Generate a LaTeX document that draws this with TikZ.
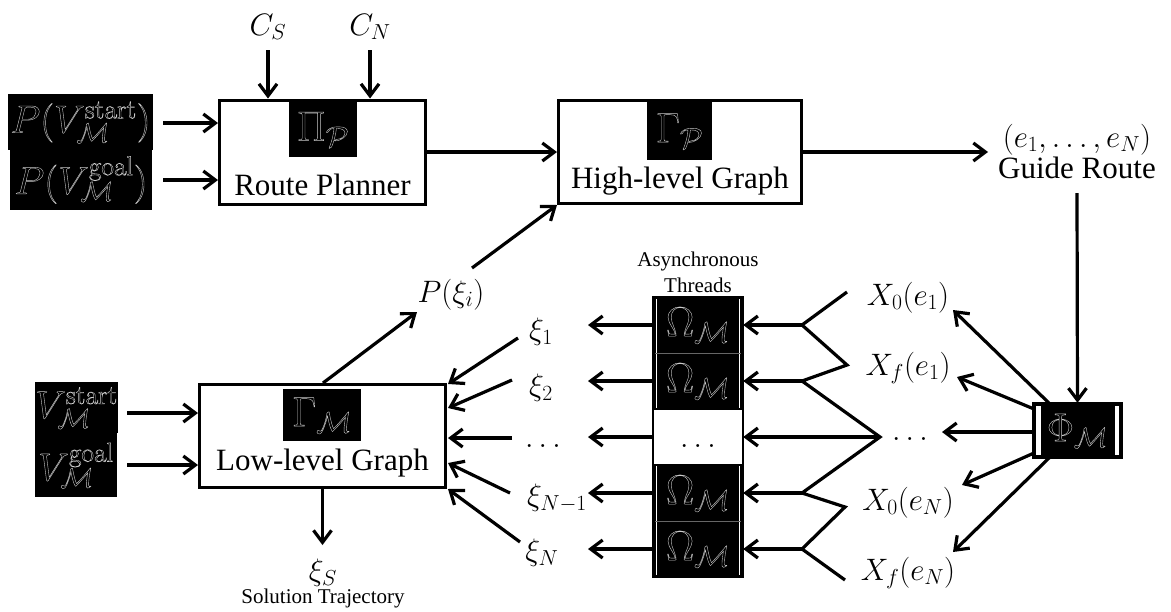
\RequirePackage{fix-cm}
\documentclass[tikz,border=0pt]{standalone}
\usepackage[no-math]{fontspec}
\setmainfont{Liberation Serif}
\usetikzlibrary{arrows.meta}
\newcommand\hollowtxt[1]{\special{pdf:literal direct 1 Tr}#1\special{pdf:literal direct 0 Tr}}
\begin{document}
\begin{tikzpicture}[x=1pt,y=-1pt,
  box/.style={draw, line width=3pt, fill=white, inner sep=0pt},
  sym/.style={fill=black, text=black!20, inner sep=0pt, font=\fontsize{42}{42}\selectfont},
  vsym/.style={sym, font=\fontsize{39}{39}\selectfont},
  lbl/.style={font=\fontsize{31}{36}\selectfont, inner sep=0pt},
  small/.style={font=\fontsize{21}{24}\selectfont, inner sep=0pt},
  arr/.style={-{Straight Barb[length=12pt,width=18pt]}, line width=3.2pt},
  ln/.style={line width=3.2pt, line join=miter},
]
\useasboundingbox (0,0) rectangle (1171,611);

% ---------- Route planner ----------
\node[box, minimum width=206pt, minimum height=104pt] (rp) at (322.5,152) {};
\node[sym, minimum width=68pt, minimum height=55pt] (pi) at (323,129.5) {\hollowtxt{$\Pi_{\mathcal P}$}};
\node[lbl, anchor=base] (rpl) at (322.5,195) {Route Planner};

\node[lbl, anchor=base] (cs) at (268,35) {$C_S$};
\node[lbl, anchor=base] (cn) at (370,35) {$C_N$};
\coordinate (csb) at (268,50);
\coordinate (cnb) at (370,50);

\node[vsym, minimum width=145pt, minimum height=56pt] (pvs) at (80.5,122)
  {\hollowtxt{$P(V^{\mathrm{start}}_{\mathcal M})$}};
\node[vsym, minimum width=142pt, minimum height=60pt] (pvg) at (81,180)
  {\hollowtxt{$P(V^{\mathrm{goal}}_{\mathcal M})$}};
\coordinate (pvsa) at (163,123);
\coordinate (pvga) at (163,180);

% ---------- High-level graph ----------
\node[box, minimum width=243pt, minimum height=103pt] (hl) at (680,152) {};
\node[sym, minimum width=65pt, minimum height=58pt] (gp) at (679.5,131) {\hollowtxt{$\Gamma_{\mathcal P}$}};
\node[lbl, anchor=base] (hll) at (680,188) {High-level Graph};

% ---------- Guide route ----------
\node[lbl, anchor=base] (er) at (1077,147) {$(e_1, \ldots, e_N)$};
\node[lbl, anchor=base] (gr) at (1077,178) {Guide Route};
\coordinate (gin) at (988,152);
\coordinate (gout) at (1077,193);

% ---------- Phi ----------
\node[sym, minimum width=89pt, minimum height=55pt, font=\fontsize{40}{40}\selectfont] (phi) at (1077.5,430.5) {\hollowtxt{$\Phi_{\mathcal M}$}};
\draw[line width=2.2pt] (phi.north west) rectangle (phi.south east);
\draw[white, line width=4.5pt] (1038.5,406) -- (1038.5,455);
\draw[white, line width=4pt] (1117,406) -- (1117,455);

\node[lbl, anchor=base] (x01) at (908,305) {$X_0(e_1)$};
\node[lbl, anchor=base] (xf1) at (908,375) {$X_f(e_1)$};
\node[lbl, anchor=base] (xdm) at (910,440) {$\ldots$};
\node[lbl, anchor=base] (x0n) at (908,510) {$X_0(e_N)$};
\node[lbl, anchor=base] (xfn) at (908,580) {$X_f(e_N)$};

\coordinate (f1s) at (1050,404);
\coordinate (f2s) at (1034,409);
\coordinate (f3s) at (1034,432);
\coordinate (f4s) at (1034,453);
\coordinate (f5s) at (1050,457);
\coordinate (f1t) at (953,310);
\coordinate (f2t) at (957,377);
\coordinate (f3t) at (942,432);
\coordinate (f4t) at (962,485);
\coordinate (f5t) at (953,552);

% ---------- Threads ----------
\node[small, anchor=base] (asy) at (698,266) {Asynchronous};
\node[small, anchor=base] (thr) at (698,292) {Threads};

\node[sym, minimum width=90pt, minimum height=56pt] (w1) at (698,325) {\hollowtxt{$\Omega_{\mathcal M}$}};
\node[sym, minimum width=90pt, minimum height=56pt] (w2) at (698,381) {\hollowtxt{$\Omega_{\mathcal M}$}};
\node[fill=white, minimum width=90pt, minimum height=56pt, inner sep=0pt] (wm) at (698,437) {};
\node[lbl, anchor=base] (wmd) at (698,447) {$\ldots$};
\node[sym, minimum width=90pt, minimum height=56pt] (w4) at (698,493) {\hollowtxt{$\Omega_{\mathcal M}$}};
\node[sym, minimum width=90pt, minimum height=56pt] (w5) at (698,549) {\hollowtxt{$\Omega_{\mathcal M}$}};
\draw[white, line width=1pt] (656.5,299) -- (656.5,575) (739.5,299) -- (739.5,575);
\draw[black!60, line width=0.6pt] (655,353) -- (741,353) (655,521) -- (741,521);
\draw[line width=2.5pt] (w1.north west) rectangle (w5.south east);
\draw[line width=2.5pt] (wm.north west) -- (wm.north east) (wm.south west) -- (wm.south east);

\coordinate (b1) at (802,325);
\coordinate (b2) at (802,381);
\coordinate (bm) at (880,437);
\coordinate (b4) at (802,493);
\coordinate (b5) at (802,549);
\coordinate (p1) at (847,292);
\coordinate (p2) at (847,365);
\coordinate (p4) at (845,507);
\coordinate (p5) at (845,580);

\coordinate (l1) at (588,325);
\coordinate (l2) at (588,381);
\coordinate (lm) at (588,437);
\coordinate (l4) at (588,493);
\coordinate (l5) at (588,549);

% ---------- xi labels ----------
\node[lbl] (xi1) at (541,332) {$\xi_1$};
\node[lbl] (xi2) at (541,388) {$\xi_2$};
\node[lbl, anchor=base] (xim) at (543,447) {$\ldots$};
\node[lbl] (xin1) at (557,498) {$\xi_{N-1}$};
\node[lbl] (xin) at (542,553) {$\xi_N$};

\coordinate (s1) at (518,338);
\coordinate (s2) at (512,380);
\coordinate (sm) at (512,438);
\coordinate (s4) at (510,493);
\coordinate (s5) at (520,542);
\coordinate (t1) at (448,384);
\coordinate (t2) at (448,408);
\coordinate (t3) at (448,438);
\coordinate (t4) at (448,463);
\coordinate (t5) at (448,489);

% ---------- Low-level graph ----------
\node[box, minimum width=246pt, minimum height=103pt] (ll) at (322.5,436) {};
\node[sym, minimum width=78pt, minimum height=52pt] (gm) at (322,415) {\hollowtxt{$\Gamma_{\mathcal M}$}};
\node[lbl, anchor=base] (lll) at (322.5,470) {Low-level Graph};

\node[vsym, minimum width=83pt, minimum height=51pt] (vs) at (76.5,407.5)
  {\hollowtxt{$V^{\mathrm{start}}_{\mathcal M}$}};
\node[vsym, minimum width=82pt, minimum height=64pt] (vg) at (76,465)
  {\hollowtxt{$V^{\mathrm{goal}}_{\mathcal M}$}};
\coordinate (vsa) at (127,413);
\coordinate (vga) at (127,465);

\node[lbl, anchor=base] (pxi) at (451,302) {$P(\xi_i)$};
\coordinate (pxin) at (417,312);
\coordinate (pxout) at (472,268);
\coordinate (llt) at (323,383);

\coordinate (sol) at (322.5,545);
\node[lbl] (xis) at (323,573) {$\xi_S$};
\node[small, anchor=base] (solt) at (323,603) {Solution Trajectory};

% ---------- connectors ----------
\draw[arr] (csb) -- (cs |- rp.north);
\draw[arr] (cnb) -- (cn |- rp.north);
\draw[arr] (pvsa) -- (pvsa -| rp.west);
\draw[arr] (pvga) -- (pvga -| rp.west);
\draw[arr] (rp.east) -- (hl.west);
\draw[arr] (hl.east) -- (gin);
\draw[arr] (gout) -- (phi.north);

\draw[arr] (f1s) -- (f1t);
\draw[arr] (f2s) -- (f2t);
\draw[arr] (f3s) -- (f3t);
\draw[arr] (f4s) -- (f4t);
\draw[arr] (f5s) -- (f5t);

\draw[ln] (p1) -- (b1) -- (p2) -- (b2) -- (bm) -- (b4) -- (p4) -- (b5) -- (p5);
\draw[arr] (b1) -- (w1.east);
\draw[arr] (b2) -- (w2.east);
\draw[arr] (bm) -- (wm.east);
\draw[arr] (b4) -- (w4.east);
\draw[arr] (b5) -- (w5.east);

\draw[arr] (w1.west) -- (l1);
\draw[arr] (w2.west) -- (l2);
\draw[arr] (wm.west) -- (lm);
\draw[arr] (w4.west) -- (l4);
\draw[arr] (w5.west) -- (l5);

\draw[arr] (s1) -- (t1);
\draw[arr] (s2) -- (t2);
\draw[arr] (sm) -- (t3);
\draw[arr] (s4) -- (t4);
\draw[arr] (s5) -- (t5);

\draw[arr] (vsa) -- (vsa -| ll.west);
\draw[arr] (vga) -- (vga -| ll.west);
\draw[arr] (llt) -- (pxin);
\draw[arr] (pxout) -- (hl.south west);
\draw[arr] (ll.south) -- (sol);
\end{tikzpicture}
\end{document}
